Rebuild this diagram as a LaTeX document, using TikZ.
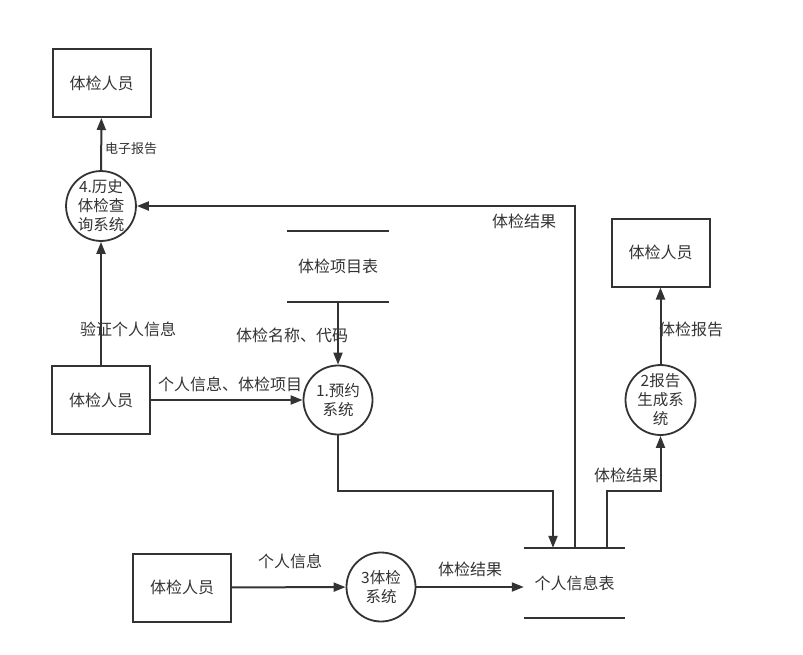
\documentclass[tikz,border=0pt]{standalone}
\usepackage{fontspec}
\setmainfont{Noto Sans CJK SC}
\usetikzlibrary{arrows.meta}
\definecolor{ink}{HTML}{333333}
\tikzset{>={Triangle[length=12pt,width=9pt]}}
\tikzset{
    entity/.style={draw=ink,line width=2pt,minimum width=98pt,minimum height=68pt,
        text=ink,font=\fontsize{16}{19}\selectfont},
    proc/.style={draw=ink,circle,line width=1.8pt,minimum size=69pt,inner sep=0pt,
        align=center,text=ink,font=\fontsize{15.5}{19}\selectfont},
    store/.style={minimum width=101pt,minimum height=70pt,inner sep=0pt,
        text=ink,font=\fontsize{16}{19}\selectfont},
    flow/.style={->,draw=ink,line width=2pt},
    lbl/.style={text=ink,inner sep=0pt,font=\fontsize{16}{19}\selectfont}
}
\newcommand\storelines[1]{
    \draw[ink,line width=2pt] (#1.north west) -- (#1.north east);
    \draw[ink,line width=2pt] (#1.south west) -- (#1.south east);
}

\begin{document}
\begin{tikzpicture}[x=1pt,y=-1pt]
    \useasboundingbox (0,0) rectangle (803,654);
    % external entities
    \node[entity] (e1) at (101.5,83)  {体检人员};
    \node[entity] (e2) at (101,400)   {体检人员};
    \node[entity] (e3) at (660.5,252.5) {体检人员};
    \node[entity] (e4) at (182,587.5) {体检人员};
    % processes
    \node[proc] (p1) at (338,400) {1.预约\\系统};
    \node[proc] (p2) at (660.5,400) {2报告\\生成系\\统};
    \node[proc] (p3) at (381,587) {3体检\\系统};
    \node[proc] (p4) at (101,206) {4.历史\\体检查\\询系统};
    % data stores
    \node[store] (s1) at (338,266.5) {体检项目表};
    \node[store] (s2) at (574.5,583) {个人信息表};
    \storelines{s1}
    \storelines{s2}
    % bends
    \coordinate (k1) at (553,491);
    \coordinate (k2) at (575,206);
    \coordinate (k3) at (607,491);
    % flows
    \draw[flow] (p4) -- (e1);
    \draw[flow] (e2) -- (p4);
    \draw[flow] (e2) -- (p1);
    \draw[flow] (s1) -- (p1);
    \draw[flow] (p1.south) |- (k1) -- (k1 |- s2.north);
    \draw[flow] (k2 |- s2.north) -- (k2) -- (p4.east);
    \draw[flow] (k3 |- s2.north) -- (k3) -| (p2.south);
    \draw[flow] (p2) -- (e3);
    \draw[flow] (e4) -- (p3);
    \draw[flow] (p3.east) -- (p3.east -| s2.west);
    % labels
    \node[lbl,font=\fontsize{13}{15}\selectfont] (l1) at (131,149) {电子报告};
    \node[lbl] (l2) at (128,329) {验证个人信息};
    \node[lbl] (l3) at (230,384) {个人信息、体检项目};
    \node[lbl] (l4) at (292,335) {体检名称、代码};
    \node[lbl] (l5) at (524,221) {体检结果};
    \node[lbl] (l6) at (626,475) {体检结果};
    \node[lbl] (l7) at (691,329) {体检报告};
    \node[lbl] (l8) at (290,561) {个人信息};
    \node[lbl] (l9) at (470,569) {体检结果};
\end{tikzpicture}
\end{document}
